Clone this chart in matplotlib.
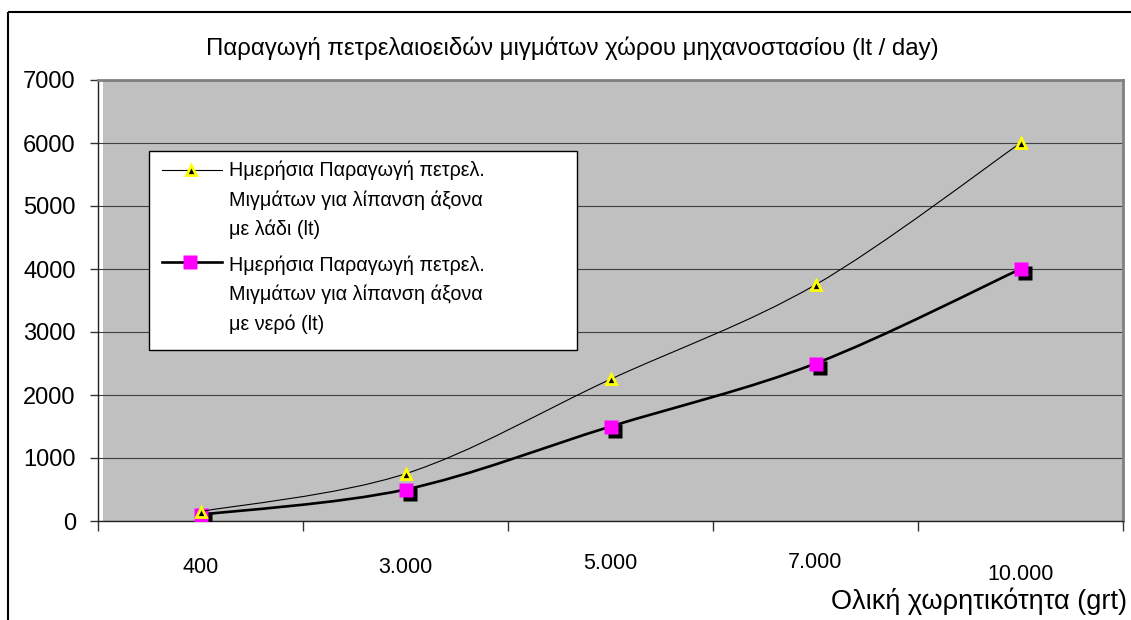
import numpy as np
import matplotlib
matplotlib.use('Agg')
import matplotlib.pyplot as plt
from matplotlib.path import Path
from matplotlib.patches import PathPatch, Rectangle
import matplotlib.transforms as mtransforms

plt.rcParams['font.family'] = ['Liberation Sans', 'DejaVu Sans']

#chart data
capacities = ['400', '3.000', '5.000', '7.000', '10.000']
oil_lube = [150, 750, 2250, 3750, 6000]      # lt/day, shaft lubricated with oil
water_lube = [100, 500, 1500, 2500, 4000]    # lt/day, shaft lubricated with water

title = 'Παραγωγή πετρελαιοειδών μιγμάτων χώρου μηχανοστασίου (lt / day)'
xlabel = 'Ολική χωρητικότητα (grt)'
label_oil = 'Ημερήσια Παραγωγή πετρελ.\nΜιγμάτων για λίπανση άξονα\nμε λάδι (lt)'
label_water = 'Ημερήσια Παραγωγή πετρελ.\nΜιγμάτων για λίπανση άξονα\nμε νερό (lt)'

W, H = 1131, 620


def smooth_path(xs, ys):
    """Bezier path through the points (Excel style smoothed line)"""
    pts = np.column_stack([xs, ys]).astype(float)
    ext = np.vstack([pts[0], pts, pts[-1]])
    verts = [pts[0]]
    codes = [Path.MOVETO]
    for i in range(len(pts) - 1):
        p0, p1, p2, p3 = ext[i], ext[i + 1], ext[i + 2], ext[i + 3]
        verts += [p1 + (p2 - p0) / 6, p2 - (p3 - p1) / 6, p2]
        codes += [Path.CURVE4] * 3
    return Path(verts, codes)


fig = plt.figure(figsize=(W / 100, H / 100), dpi=100)
ax = fig.add_axes([98 / W, 1 - 521 / H, (1123 - 98) / W, (521 - 80) / H])
ax.set_facecolor('#c0c0c0')

x = np.arange(len(capacities))
ax.set_xlim(-0.5, len(capacities) - 0.5)
ax.set_ylim(0, 7000)

# white gap between value axis and plot area
ax.axvspan(-0.5, -0.475, color='white', lw=0, zorder=0.5)

ax.set_yticks(np.arange(0, 7001, 1000))
ax.yaxis.grid(True, color='#404040', lw=0.8, zorder=1)
ax.set_axisbelow(True)

ax.set_xticks(x)
ax.set_xticklabels(capacities, fontsize=15.5)
ax.set_xticks(np.arange(-0.5, len(capacities)), minor=True)
ax.tick_params(axis='x', which='major', length=0, pad=26)
ax.tick_params(axis='x', which='minor', length=7.2, width=1, direction='out', color='#333333')
ax.tick_params(axis='y', length=6, width=1, direction='out', pad=10, color='#333333', labelsize=17)

#category labels sit at slightly different heights in the original
label_dy = [0, 0, 4, 5, -7]
for t, dy in zip(ax.get_xticklabels(), label_dy):
    t.set_y(dy / 441)

for s in ['left', 'bottom']:
    ax.spines[s].set_color('#222222')
    ax.spines[s].set_linewidth(1)
for s in ['top', 'right']:
    ax.spines[s].set_color('#808080')
    ax.spines[s].set_linewidth(2)

#water line with shadowed squares
ax.add_patch(PathPatch(smooth_path(x, water_lube), fill=False, edgecolor='black', lw=1.9, zorder=3))
shadow = mtransforms.offset_copy(ax.transData, fig=fig, x=3, y=-3, units='points')
ax.plot(x, water_lube, ls='none', marker='s', ms=9.5, mfc='black', mec='none', transform=shadow, zorder=4)
ax.plot(x, water_lube, ls='none', marker='s', ms=9.5, mfc='#ff00ff', mec='none', zorder=5)

#oil line with yellow triangles
ax.add_patch(PathPatch(smooth_path(x, oil_lube), fill=False, edgecolor='black', lw=0.8, zorder=6))
ax.plot(x, oil_lube, ls='none', marker='^', ms=7, mfc='black', mec='#ffff00', mew=2, zorder=7)

#overlay in pixel units for legend box and texts
ov = fig.add_axes([0, 0, 1, 1], zorder=5)
ov.set_xlim(0, W)
ov.set_ylim(H, 0)
ov.axis('off')

ov.add_patch(Rectangle((149, 151), 428, 199, facecolor='white', edgecolor='black', lw=1))
ov.plot([162, 222], [170, 170], color='black', lw=0.8)
ov.plot([191], [170], marker='^', ms=7, mfc='black', mec='#ffff00', mew=2)
ov.plot([162, 222], [262, 262], color='black', lw=1.9)
ov.plot([190], [262], marker='s', ms=9.5, mfc='#ff00ff', mec='none')
for lab, y0 in [(label_oil, 176), (label_water, 271)]:
    for k, line in enumerate(lab.split('\n')):
        ov.text(229, y0 + 29.5 * k, line, fontsize=14.2, ha='left', va='baseline')

ov.text(572, 48, title, ha='center', va='center', fontsize=17.3)
ov.text(1127, 601, xlabel, ha='right', va='center', fontsize=19.5)

#outer chart border
ov.add_patch(Rectangle((8, 12), W, H, fill=False, edgecolor='black', lw=1.5, clip_on=False))

fig.savefig('out.png', dpi=100)
